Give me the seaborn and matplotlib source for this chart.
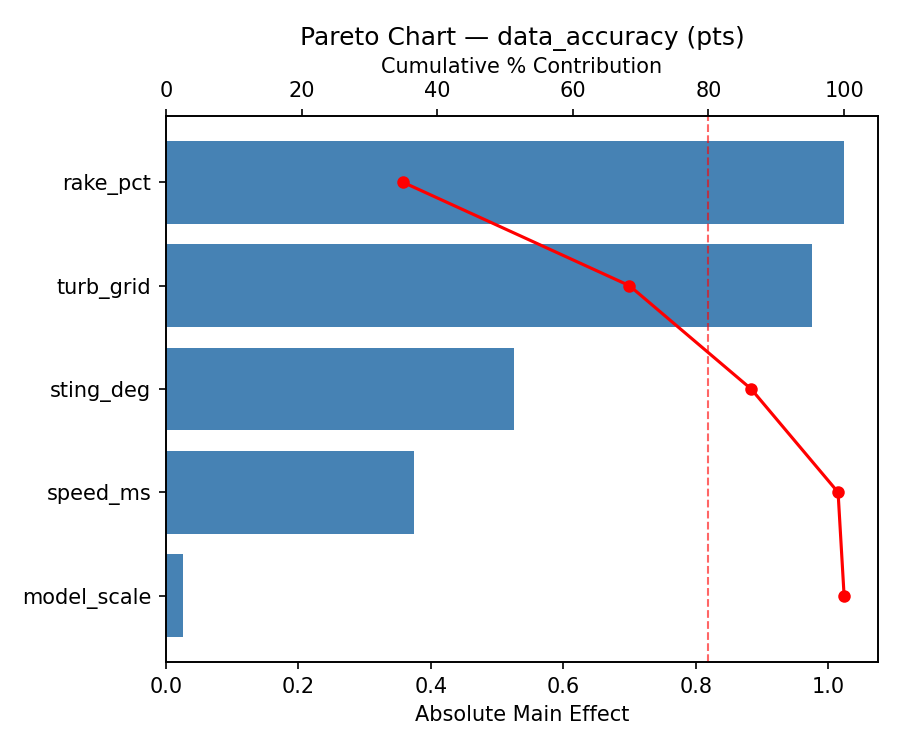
import matplotlib
matplotlib.use("Agg")
import matplotlib.pyplot as plt
import seaborn as sns
import numpy as np
import pandas as pd

factors = ["rake_pct", "turb_grid", "sting_deg", "speed_ms", "model_scale"]
effects = [1.024, 0.976, 0.525, 0.375, 0.026]
threshold_pct = 80

df = pd.DataFrame({"factor": factors, "effect": effects})
cum_pct = np.cumsum(effects) / np.sum(effects) * 100

fig, ax = plt.subplots(figsize=(6, 5), dpi=150)
sns.barplot(data=df, x="effect", y="factor", orient="h", color="steelblue",
            saturation=1, width=0.8, ax=ax)
ax.set_xlim(0, max(effects) * 1.05)
ax.set_ylim(len(factors) - 1 + 0.4 + 0.243, -0.4 - 0.243)
ax.set_xlabel("Absolute Main Effect")
ax.set_ylabel("")

ax2 = ax.twiny()
ax2.plot(cum_pct, np.arange(len(factors)), color="red", marker="o",
         markersize=5, linewidth=1.5)
ax2.axvline(threshold_pct, color="red", linestyle="--", linewidth=1, alpha=0.6)
ax2.set_xlim(0, 105)
ax2.set_xlabel("Cumulative % Contribution")
ax2.set_title("Pareto Chart \u2014 data_accuracy (pts)")

fig.subplots_adjust(left=166 / 900, right=878 / 900, top=1 - 116 / 750,
                    bottom=1 - 662 / 750)
fig.savefig("out.png", dpi=150)
